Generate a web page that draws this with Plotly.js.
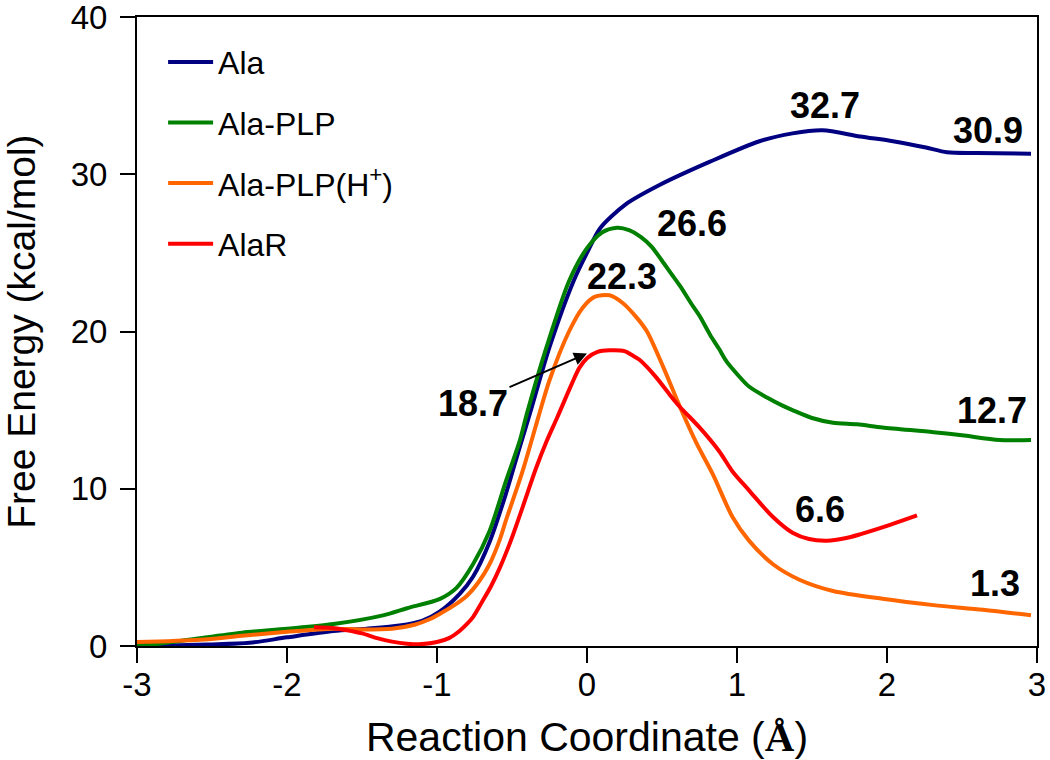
<!DOCTYPE html>
<html>
<head>
<meta charset="utf-8">
<script src="https://cdn.plot.ly/plotly-3.0.1.min.js"></script>
<style>html,body{margin:0;padding:0;background:#fff;}</style>
</head>
<body>
<div id="chart" style="width:1050px;height:760px;"></div>
<script>
// ---- data ----
const alaX = [-3.0,-2.8,-2.5,-2.25,-2.0,-1.69,-1.47,-1.25,-1.1,-0.98,-0.85,-0.76,-0.65,-0.54,-0.45,-0.38,-0.25,-0.09,0.0,0.09,0.26,0.48,0.82,1.15,1.37,1.57,1.82,2.04,2.26,2.40,2.6,2.96];
const alaY = [0.2,0.05,0.1,0.2,0.55,0.95,1.1,1.3,1.6,2.2,3.3,4.4,6.6,9.7,12.6,14.8,19.0,23.2,25.0,26.6,28.1,29.3,30.8,32.1,32.6,32.8,32.4,32.1,31.7,31.4,31.35,31.3];

const plpX = [-3.0,-2.8,-2.58,-2.3,-2.0,-1.69,-1.36,-1.2,-0.98,-0.87,-0.76,-0.65,-0.54,-0.45,-0.40,-0.27,-0.12,0.0,0.1,0.2,0.28,0.36,0.43,0.5,0.56,0.62,0.7,0.75,0.82,0.88,0.93,1.0,1.08,1.2,1.3,1.37,1.5,1.64,1.8,1.97,2.31,2.5,2.75,2.96];
const plpY = [0.0,0.2,0.5,0.85,1.1,1.4,1.95,2.4,3.0,3.7,5.2,7.3,10.5,13.0,14.8,19.0,23.2,25.3,26.3,26.6,26.45,26.0,25.4,24.5,23.7,22.9,21.7,21.0,19.8,18.9,18.1,17.3,16.5,15.8,15.3,15.0,14.5,14.2,14.1,13.9,13.6,13.4,13.1,13.1];

const plpHX = [-3.0,-2.58,-2.3,-2.0,-1.69,-1.5,-1.3,-1.15,-1.05,-0.98,-0.9,-0.8,-0.72,-0.65,-0.58,-0.54,-0.43,-0.32,-0.25,-0.12,-0.03,0.05,0.15,0.24,0.33,0.4,0.51,0.62,0.73,0.84,0.97,1.08,1.24,1.42,1.64,1.97,2.31,2.64,2.96];
const plpHY = [0.25,0.4,0.65,0.9,1.1,1.05,1.1,1.35,1.7,2.05,2.5,3.2,4.1,5.2,6.8,8.0,11.1,14.7,16.9,20.0,21.5,22.2,22.3,21.8,20.9,20.0,17.7,15.2,12.9,10.9,8.2,6.7,5.2,4.2,3.5,3.0,2.6,2.3,1.95];

const alarX = [-1.82,-1.7,-1.6,-1.5,-1.4,-1.3,-1.2,-1.1,-1.0,-0.92,-0.85,-0.8,-0.76,-0.7,-0.64,-0.58,-0.5,-0.43,-0.34,-0.27,-0.2,-0.1,-0.05,0.0,0.07,0.15,0.25,0.3,0.35,0.46,0.55,0.62,0.75,0.88,0.97,1.08,1.24,1.37,1.48,1.6,1.72,1.82,2.02,2.2];
const alarY = [1.2,1.15,1.0,0.8,0.5,0.28,0.15,0.12,0.25,0.5,0.95,1.4,1.84,2.8,3.8,5.0,6.9,8.8,11.3,13.0,14.5,16.7,17.7,18.3,18.7,18.8,18.75,18.5,18.2,17.1,16.0,15.2,13.9,12.4,11.1,9.9,8.2,7.2,6.8,6.7,6.85,7.1,7.7,8.3];

const seriesNames = ['Ala','Ala-PLP','Ala-PLP(H<sup>+</sup>)','AlaR'];
const seriesColors = ['#000080','#008000','#ff6600','#ff0000'];

const labelText = ['32.7','30.9','26.6','22.3','12.7','6.6','1.3'];
const labelX = [1.585,2.67,0.70,0.23,2.70,1.55,2.72];
const labelY = [34.36,32.8,26.9,23.5,15.0,8.7,4.0];

// arrow label 18.7: text position and the point it marks
const arrowText = '18.7';
const arrowTextX = -0.76, arrowTextY = 15.45;
const arrowTipX = 0.0, arrowTipY = 18.6;

const xTicks = [-3,-2,-1,0,1,2,3];
const xTickText = ['-3','-2','-1','0','1','2','3'];
const yTicks = [0,10,20,30,40];
const yTickText = ['0','10','20','30','40'];

const FONT = 'Liberation Sans, Arial, Helvetica, sans-serif';

const xs = [alaX, plpX, plpHX, alarX];
const ys = [alaY, plpY, plpHY, alarY];
const traces = xs.map((x, i) => ({
  type: 'scatter', mode: 'lines', x: x, y: ys[i],
  name: seriesNames[i], legendgroup: 'g' + i,
  line: {color: seriesColors[i], width: 4, shape: 'spline', smoothing: 0.8}
}));

const annotations = labelText.map((t, i) => ({
  x: labelX[i], y: labelY[i], xref: 'x', yref: 'y', text: '<b>' + t + '</b>',
  showarrow: false, font: {family: FONT, size: 36, color: '#000'}
}));
annotations.push({
  x: arrowTipX, y: arrowTipY, xref: 'x', yref: 'y',
  ax: arrowTextX, ay: arrowTextY, axref: 'x', ayref: 'y',
  text: '<b>' + arrowText + '</b>', showarrow: true,
  arrowhead: 2, arrowsize: 1.3, arrowwidth: 2, arrowcolor: '#000',
  font: {family: FONT, size: 36, color: '#000'}
});
// y-axis title
annotations.push({
  xref: 'paper', yref: 'paper', x: -0.1285, y: 0.5,
  xanchor: 'center', yanchor: 'middle', textangle: -90,
  text: 'Free Energy (kcal/mol)', showarrow: false,
  font: {family: FONT, size: 39, color: '#000'}
});

const axisCommon = {
  showgrid: false, zeroline: false, showline: true, mirror: true,
  linecolor: '#000', linewidth: 2, ticks: 'outside', ticklen: 15,
  tickwidth: 2, tickcolor: '#000', ticklabeloverflow: 'allow',
  tickfont: {family: FONT, size: 33, color: '#000'}
};

const layout = {
  width: 1050, height: 760,
  margin: {l: 137, r: 13, t: 17, b: 114},
  paper_bgcolor: '#fff', plot_bgcolor: '#fff',
  font: {family: FONT, color: '#000'},
  showlegend: true,
  legend: {
    x: 0.029, y: 0.972, xanchor: 'left', yanchor: 'top',
    traceorder: 'grouped', tracegroupgap: 16, itemwidth: 45,
    bgcolor: 'rgba(0,0,0,0)', borderwidth: 0,
    font: {family: FONT, size: 32, color: '#000'}
  },
  xaxis: Object.assign({}, axisCommon, {
    range: [-3, 3], tickvals: xTicks, ticktext: xTickText, ticklabelstandoff: -7,
    title: {text: 'Reaction Coordinate (<span style="font-family:\'Liberation Serif\';font-weight:bold">Å</span>)',
            font: {family: FONT, size: 41, color: '#000'}}
  }),
  yaxis: Object.assign({}, axisCommon, {
    range: [0, 40], tickvals: yTicks, ticktext: yTickText, ticklabelstandoff: 6
  }),
  annotations: annotations
};

Plotly.newPlot('chart', traces, layout, {displayModeBar: false, staticPlot: true});
</script>
</body>
</html>
